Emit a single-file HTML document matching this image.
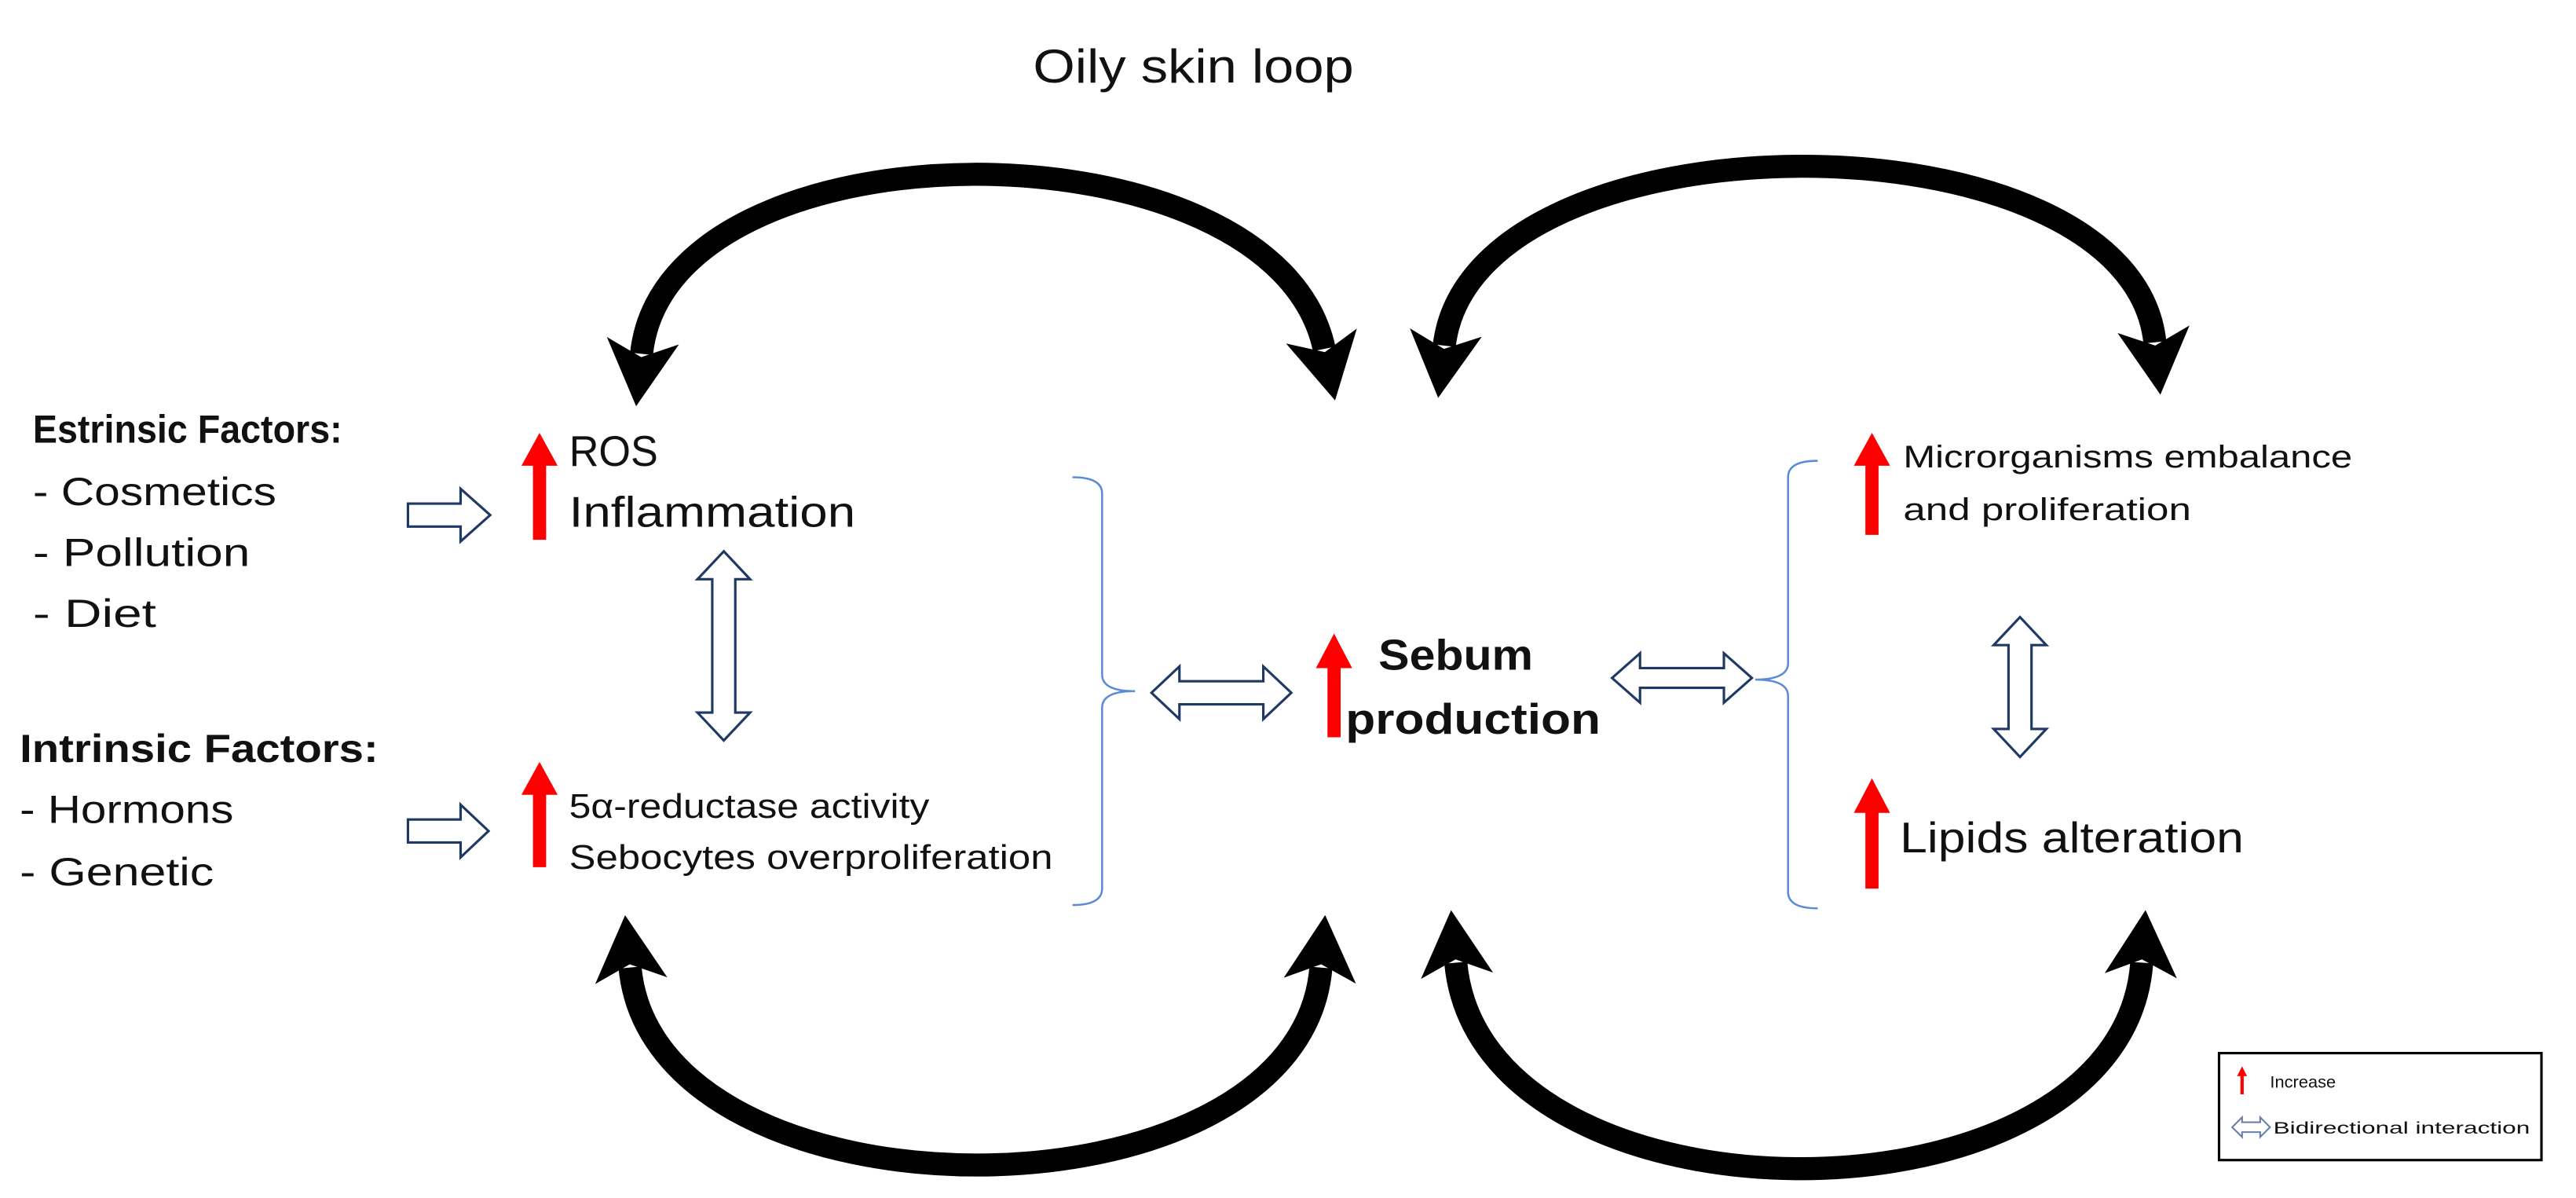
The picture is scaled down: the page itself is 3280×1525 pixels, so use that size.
<!DOCTYPE html>
<html><head><meta charset="utf-8"><style>
html,body{margin:0;padding:0;background:#fff;}
svg{display:block;}
text{font-family:"Liberation Sans",sans-serif;fill:#111;}
</style></head><body>
<svg width="3280" height="1525" viewBox="0 0 1566 728" xmlns="http://www.w3.org/2000/svg">
<defs>
<marker id="ah" markerUnits="userSpaceOnUse" viewBox="0 0 40 44" markerWidth="40" markerHeight="44" refX="8" refY="22" orient="auto-start-reverse">
<path d="M0,0 L40,22 L0,44 L10,22 Z" fill="#000"/>
</marker>
</defs>
<rect width="1566" height="728" fill="#fff"/>
<text x="628" y="50" font-size="29" textLength="195" lengthAdjust="spacingAndGlyphs" fill="#222">Oily skin loop</text>

<g fill="none" stroke="#000" stroke-width="14" marker-start="url(#ah)" marker-end="url(#ah)">
<path d="M390,215 C405,70 775,70 805,212"/>
<path d="M878,210 C895,65 1295,65 1310,208"/>
<path d="M383,588 C398,748 790,748 803,588"/>
<path d="M885,585 C900,752 1290,752 1302,585"/>
</g>

<text x="20" y="269" font-size="24" font-weight="bold" textLength="188" lengthAdjust="spacingAndGlyphs">Estrinsic Factors:</text>
<text x="20" y="307" font-size="24" textLength="148" lengthAdjust="spacingAndGlyphs">- Cosmetics</text>
<text x="20" y="344" font-size="24" textLength="132" lengthAdjust="spacingAndGlyphs">- Pollution</text>
<text x="20" y="381" font-size="24" textLength="75" lengthAdjust="spacingAndGlyphs">- Diet</text>
<text x="12" y="463" font-size="24" font-weight="bold" textLength="218" lengthAdjust="spacingAndGlyphs">Intrinsic Factors:</text>
<text x="12" y="500" font-size="24" textLength="130" lengthAdjust="spacingAndGlyphs">- Hormons</text>
<text x="12" y="538" font-size="24" textLength="118" lengthAdjust="spacingAndGlyphs">- Genetic</text>

<g fill="#fff" stroke="#1f3864" stroke-width="1.5">
<polygon points="248,306 280,306 280,297 298,313 280,329 280,320 248,320"/>
<polygon points="248,498 280,498 280,489 297,505 280,521 280,512 248,512"/>
<polygon points="440,335 456,352 447,352 447,433 456,433 440,450 424,433 433,433 433,352 424,352"/>
<polygon points="1228,375 1244,392 1235,392 1235,443 1244,443 1228,460 1212,443 1221,443 1221,392 1212,392"/>
<polygon points="700,421 717,405 717,414 768,414 768,405 785,421 768,437 768,428 717,428 717,437"/>
<polygon points="980,412 997,397 997,406 1048,406 1048,397 1065,412 1048,427 1048,418 997,418 997,427"/>
</g>

<g fill="#f00">
<polygon points="328,263 339,283 332,283 332,328 324,328 324,283 317,283"/>
<polygon points="328,463 339,483 332,483 332,527 324,527 324,483 317,483"/>
<polygon points="811,385 822,406 815,406 815,448 807,448 807,406 800,406"/>
<polygon points="1138,263 1149,283 1142,283 1142,325 1134,325 1134,283 1127,283"/>
<polygon points="1138,473 1149,494 1142,494 1142,540 1134,540 1134,494 1127,494"/>
</g>

<text x="346" y="283" font-size="26" textLength="54" lengthAdjust="spacingAndGlyphs">ROS</text>
<text x="346" y="320" font-size="26" textLength="174" lengthAdjust="spacingAndGlyphs">Inflammation</text>
<text x="346" y="497" font-size="21" textLength="219" lengthAdjust="spacingAndGlyphs">5α-reductase activity</text>
<text x="346" y="528" font-size="21" textLength="294" lengthAdjust="spacingAndGlyphs">Sebocytes overproliferation</text>
<text x="838" y="407" font-size="26" font-weight="bold" textLength="94" lengthAdjust="spacingAndGlyphs">Sebum</text>
<text x="818" y="446" font-size="26" font-weight="bold" textLength="155" lengthAdjust="spacingAndGlyphs">production</text>
<text x="1157" y="284" font-size="19" textLength="273" lengthAdjust="spacingAndGlyphs">Microrganisms embalance</text>
<text x="1157" y="316" font-size="19" textLength="175" lengthAdjust="spacingAndGlyphs">and proliferation</text>
<text x="1155" y="518" font-size="26" textLength="209" lengthAdjust="spacingAndGlyphs">Lipids alteration</text>

<g fill="none" stroke="#5b8bd6" stroke-width="1.2">
<path d="M652,290 Q670,290 670,300 L670,410 Q670,420 690,420 Q670,420 670,430 L670,540 Q670,550 652,550"/>
<path d="M1105,280 Q1087,280 1087,290 L1087,403 Q1087,413 1067,413 Q1087,413 1087,423 L1087,542 Q1087,552 1105,552"/>
</g>

<rect x="1349" y="640" width="196" height="65" fill="#fff" stroke="#000" stroke-width="1.5"/>
<polygon points="1363,648 1366,654 1364,654 1364,665 1362,665 1362,654 1360,654" fill="#f00"/>
<text x="1380" y="661" font-size="10" textLength="40" lengthAdjust="spacingAndGlyphs">Increase</text>
<polygon points="1357,685 1363,679 1363,682 1374,682 1374,679 1380,685 1374,691 1374,688 1363,688 1363,691" fill="#fff" stroke="#6a7fa8" stroke-width="1"/>
<text x="1382" y="689" font-size="10" textLength="156" lengthAdjust="spacingAndGlyphs">Bidirectional interaction</text>
</svg>
</body></html>
